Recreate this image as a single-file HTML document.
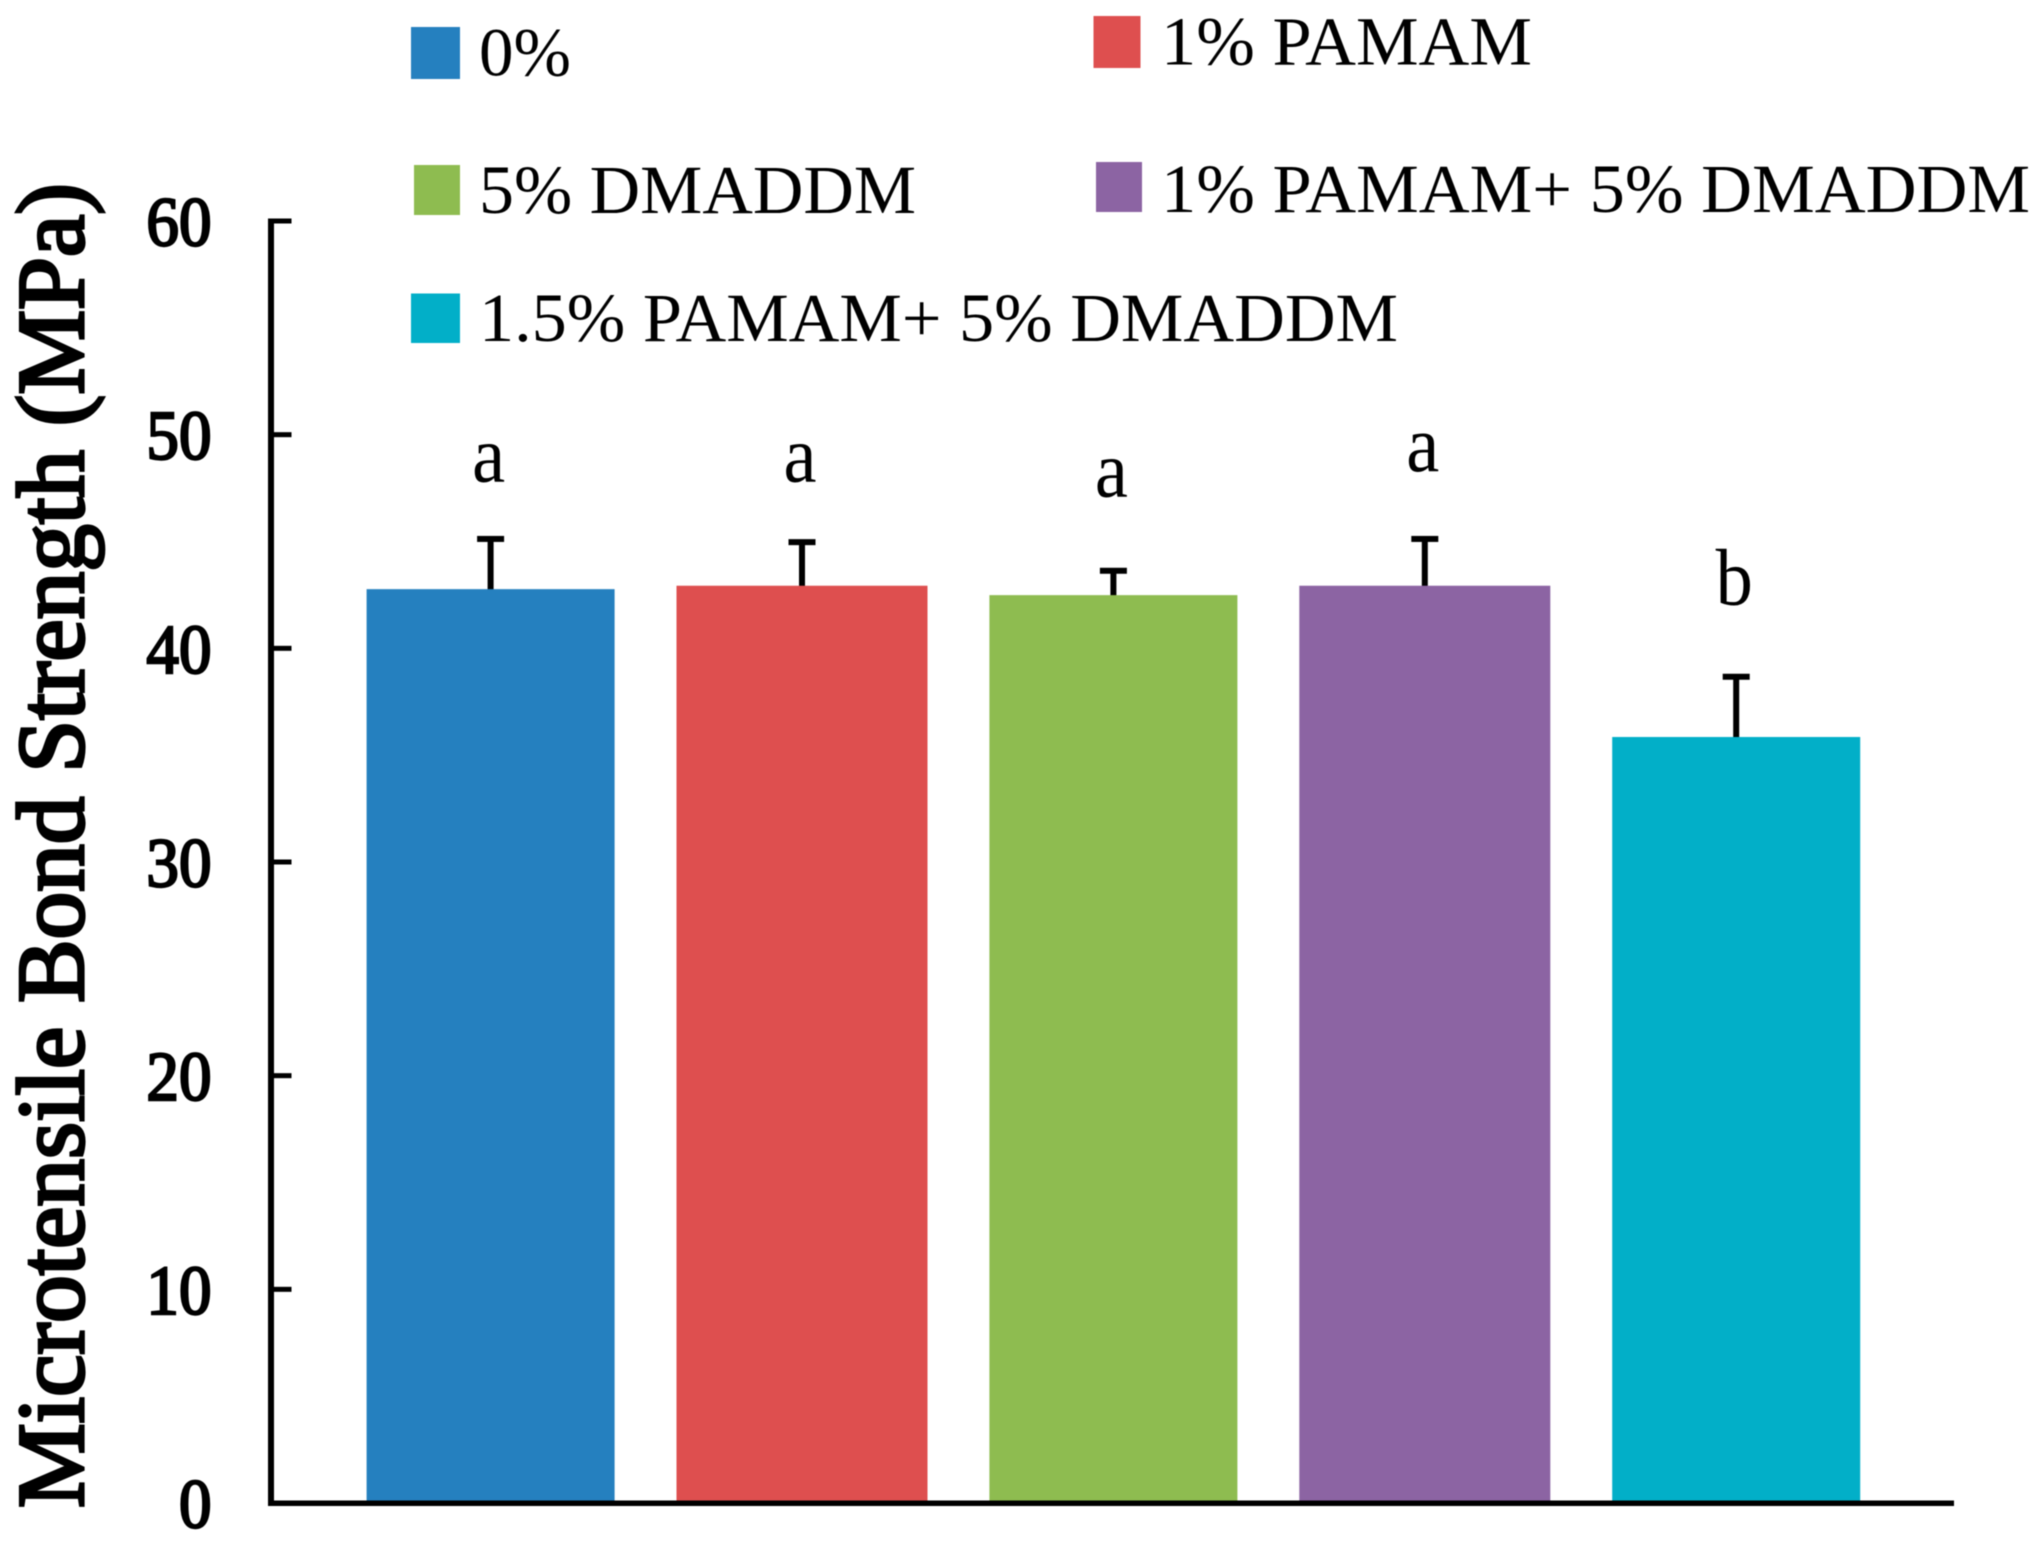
<!DOCTYPE html>
<html lang="en">
<head>
<meta charset="utf-8">
<title>Microtensile Bond Strength</title>
<style>
  html, body { margin: 0; padding: 0; background: #fff; }
  #chart { display: block; width: 2039px; height: 1553px; filter: blur(0.6px); }
  text { font-family: "Liberation Serif", "Times New Roman", serif; fill: #000; }
  .legend-label { font-size: 69px; }
  .tick-label { font-size: 70px; stroke: #000; stroke-width: 2.4px; }
  .sig-letter { font-size: 80px; text-anchor: middle; }
  .axis-title { font-size: 95px; stroke: #000; stroke-width: 3.2px; }
</style>
</head>
<body>
<svg id="chart" xmlns="http://www.w3.org/2000/svg" width="2039" height="1553" viewBox="0 0 2039 1553">
  <rect width="2039" height="1553" fill="#fff"></rect>

  <text class="axis-title" transform="translate(83,1508) rotate(-90)" textLength="1325" lengthAdjust="spacingAndGlyphs">Microtensile Bond Strength (MPa)</text>

  <g id="plot"></g>

  <g>
    <g>
      <rect x="411" y="27" width="49" height="52" fill="#2580bf"></rect>
      <text class="legend-label" x="479" y="75.5">0%</text>
    </g>
    <g>
      <rect x="1093.5" y="16" width="47" height="52" fill="#de4f4f"></rect>
      <text class="legend-label" x="1161" y="64.5" textLength="371" lengthAdjust="spacingAndGlyphs">1% PAMAM</text>
    </g>
    <g>
      <rect x="414" y="165" width="46" height="50" fill="#8ebc50"></rect>
      <text class="legend-label" x="479" y="213" textLength="437" lengthAdjust="spacingAndGlyphs">5% DMADDM</text>
    </g>
    <g>
      <rect x="1096" y="162" width="46" height="50" fill="#8c64a3"></rect>
      <text class="legend-label" x="1161" y="212" textLength="869" lengthAdjust="spacingAndGlyphs">1% PAMAM+ 5% DMADDM</text>
    </g>
    <g>
      <rect x="411" y="293.5" width="49" height="49.5" fill="#02afc8"></rect>
      <text class="legend-label" x="479" y="341" textLength="919" lengthAdjust="spacingAndGlyphs">1.5% PAMAM+ 5% DMADDM</text>
    </g>
  </g>
</svg>

<script>
const categories = ['0%', '1% PAMAM', '5% DMADDM', '1% PAMAM+ 5% DMADDM', '1.5% PAMAM+ 5% DMADDM'];
const barValues = [42.77, 42.93, 42.49, 42.93, 35.85];
const errorValues = [2.35, 2.04, 1.14, 2.19, 2.82];
const sigLetters = ['a', 'a', 'a', 'a', 'b'];
const sigLetterLevels = [47.8, 47.8, 47.1, 48.3, 42.05];
const barColors = ['#2580bf', '#de4f4f', '#8ebc50', '#8c64a3', '#02afc8'];
const yTicks = [0, 10, 20, 30, 40, 50, 60];

const SVG_NS = 'http://www.w3.org/2000/svg';
const plot = document.getElementById('plot');

const yBase = 1503, yTop = 221, yMax = 60;
const firstCenter = 490.6, bandStep = 311.4;

function yScale(v) { return yBase - (v / yMax) * (yBase - yTop); }
function xScale(i) { return firstCenter + i * bandStep; }
function barWidth(i) { return i % 2 ? 251 : 248; }

function make(tag, attrs) {
  const el = document.createElementNS(SVG_NS, tag);
  for (const k in attrs) el.setAttribute(k, attrs[k]);
  plot.appendChild(el);
  return el;
}

categories.forEach(function (cat, i) {
  const cx = xScale(i);
  const top = yScale(barValues[i]);
  const errTop = yScale(barValues[i] + errorValues[i]);
  const w = barWidth(i);

  const stem = make('rect', { x: cx - 3, y: errTop, width: 6, height: top - errTop + 1, fill: '#000' });
  
  

  const cap = make('rect', { x: cx - 13.5, y: errTop - 3, width: 27, height: 6, fill: '#000' });
  
  

  const bar = make('rect', { x: cx - w / 2, y: top, width: w, height: yBase - top, fill: barColors[i] });
  
  

  const letter = make('text', { class: 'sig-letter', transform: 'translate(' + (cx - 2) + ',' + yScale(sigLetterLevels[i]) + ') scale(0.93,1)' });
  letter.textContent = sigLetters[i];
  
  
});

const yAxisLine = make('rect', { x: 268, y: yTop - 2.5, width: 6, height: yBase - yTop + 5, fill: '#000' });



const xAxisLine = make('rect', { x: 268, y: yBase - 2.5, width: 1686, height: 5.5, fill: '#000' });



yTicks.forEach(function (t) {
  const y = yScale(t);

  const tick = make('rect', { x: 270, y: y - 2.5, width: 21.5, height: 5, fill: '#000' });
  
  

  const label = make('text', { class: 'tick-label', 'text-anchor': 'end', transform: 'translate(211.5,' + (y + 24.5) + ') scale(0.93,1)' });
  label.textContent = String(t);
  
  
});
</script>
</body>
</html>
